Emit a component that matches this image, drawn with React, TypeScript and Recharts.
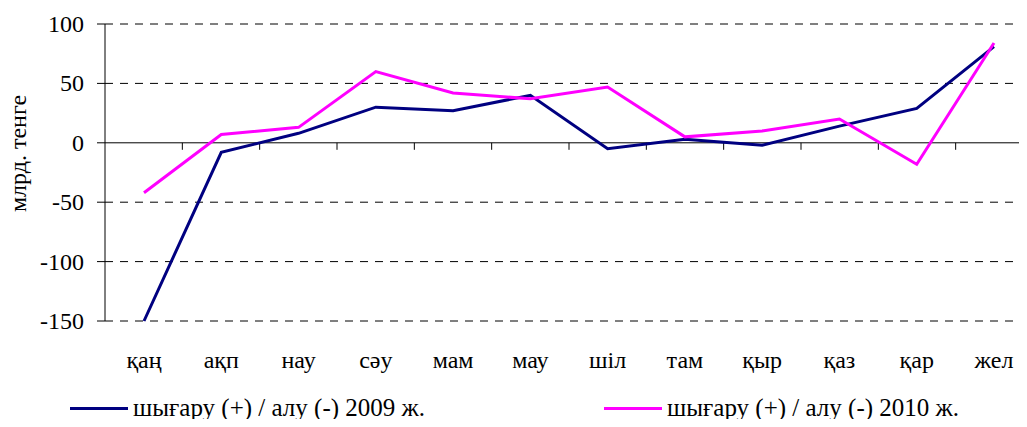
import React from "react";
import { LineChart, Line, XAxis, YAxis, CartesianGrid, ReferenceLine } from "recharts";

const months = ["қаң", "ақп", "нау", "сәу", "мам", "мау", "шіл", "там", "қыр", "қаз", "қар", "жел"];
const series2009 = [-150, -8, 8, 30, 27, 40, -5, 3, -2, 14, 29, 81];
const series2010 = [-42, 7, 13, 60, 42, 37, 47, 5, 10, 20, -18, 84];
const yTicks = [-150, -100, -50, 0, 50, 100];
const name2009 = "шығару (+) / алу (-) 2009 ж.";
const name2010 = "шығару (+) / алу (-) 2010 ж.";
const yLabel = "млрд. тенге";

const data = months.map((m, i) => ({ m, a: series2009[i], b: series2010[i] }));

const FONT = "Liberation Serif";

const ZeroLine = (props: any) => {
  const { x1, x2, y1 } = props;
  const n = months.length;
  const w = (x2 - x1) / n;
  const ticks = [];
  for (let i = 1; i < n; i++) {
    const x = x1 + i * w;
    ticks.push(<line key={i} x1={x} x2={x} y1={y1} y2={y1 + 7} stroke="#000" strokeWidth={1} />);
  }
  return (
    <g>
      <line x1={x1} x2={x2} y1={y1} y2={y1} stroke="#000" strokeWidth={1} />
      {ticks}
    </g>
  );
};

const XTick = (props: any) => {
  const { x, y, payload } = props;
  return (
    <text x={x} y={y} dy={39} textAnchor="middle" fontFamily={FONT} fontSize={24} fill="#000">
      {payload.value}
    </text>
  );
};

const YTick = (props: any) => {
  const { x, y, payload } = props;
  return (
    <text x={x - 11} y={y} dy={8} textAnchor="end" fontFamily={FONT} fontSize={24} fill="#000">
      {payload.value}
    </text>
  );
};

const YLab = (props: any) => {
  const { viewBox } = props;
  const cx = viewBox.x + 18;
  const cy = viewBox.y + viewBox.height / 2 - 19;
  return (
    <text x={cx} y={cy} transform={`rotate(-90, ${cx}, ${cy})`} textAnchor="middle" dominantBaseline="central" fontFamily={FONT} fontSize={24} fill="#000">
      {yLabel}
    </text>
  );
};

export default function App() {
  return (
    <div style={{ margin: -8, width: 1027, height: 427, overflow: "hidden", position: "relative", background: "#fff" }}>
      <LineChart width={1040} height={427} data={data} margin={{ top: 24, right: 7, bottom: 0, left: 0 }}>
        <CartesianGrid horizontal vertical={false} stroke="#000" strokeDasharray="8 7" horizontalValues={[-150, -100, -50, 50, 100]} />
        <XAxis dataKey="m" axisLine={false} tickLine={false} height={106} tick={<XTick />} interval={0} padding={{ left: 39, right: 39 }} />
        <YAxis
          domain={[-150, 100]}
          ticks={yTicks}
          width={105}
          axisLine={{ stroke: "#000" }}
          tickLine={{ stroke: "#000" }}
          tickSize={8}
          tick={<YTick />}
          label={<YLab />}
        />
        <ReferenceLine y={0} shape={<ZeroLine />} />
        <Line dataKey="a" name={name2009} stroke="#000080" strokeWidth={3} dot={false} isAnimationActive={false} />
        <Line dataKey="b" name={name2010} stroke="#ff00ff" strokeWidth={3} dot={false} isAnimationActive={false} />
      </LineChart>
      <div style={{ position: "absolute", top: 394, left: 0, width: 1027, fontFamily: FONT, fontSize: 25, lineHeight: "28px", color: "#000" }}>
        <div style={{ position: "absolute", left: 70, top: 0, display: "flex", alignItems: "center", whiteSpace: "nowrap" }}>
          <span style={{ display: "inline-block", width: 58, height: 3, background: "#000080", marginRight: 5 }} />
          <span>{name2009}</span>
        </div>
        <div style={{ position: "absolute", left: 604, top: 0, display: "flex", alignItems: "center", whiteSpace: "nowrap" }}>
          <span style={{ display: "inline-block", width: 58, height: 3, background: "#ff00ff", marginRight: 5 }} />
          <span>{name2010}</span>
        </div>
      </div>
    </div>
  );
}
